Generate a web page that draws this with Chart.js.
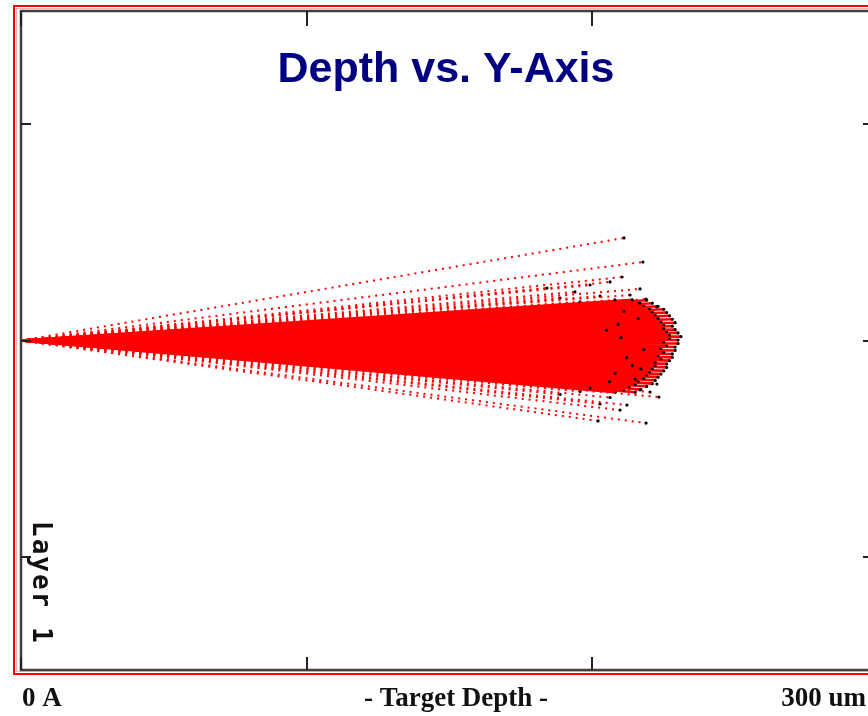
<!DOCTYPE html>
<html>
<head>
<meta charset="utf-8">
<script src="https://cdn.jsdelivr.net/npm/chart.js"></script>
<style>
  html, body { margin: 0; padding: 0; background: #fff; overflow: hidden; }
  #wrap { position: relative; width: 900px; height: 716px; }
</style>
</head>
<body>
<div id="wrap"><canvas id="depthchart"></canvas></div>
<script>
// ion entry point (depth um, lateral um)
const entryPoint = [0, 0];

// dense core of trajectories: stopping depth (um) and lateral position (um)
const coreDepth = [214, 219, 216, 221, 218, 223, 220, 225, 221, 226, 222, 227, 223, 228, 224, 229, 225, 228, 225, 229,
    226, 230, 227, 231, 227, 230, 225, 230, 226, 229, 224, 229, 225, 228, 223, 228, 224, 227, 222, 226,
    222, 226, 221, 225, 220, 224, 219, 223, 218, 222, 216, 221, 215, 219, 213, 217, 211, 215, 208];
const coreY = [18.8, 18.6, 17.5, 17.2, 16.1, 15.8, 14.7, 14.4, 13.3, 12.9, 11.8, 11.4, 10.3, 9.8, 8.7, 8.2, 7.2, 6.6, 5.6, 5.0,
    4.1, 3.5, 2.5, 1.8, 0.9, 0.2, -0.7, -1.4, -2.3, -3.0, -3.8, -4.6, -5.4, -6.2, -6.9, -7.8, -8.5, -9.3, -10.0, -10.8,
    -11.5, -12.4, -13.0, -14.0, -14.5, -15.5, -16.0, -16.9, -17.4, -18.4, -18.8, -19.9, -20.2, -21.2, -21.5, -22.6, -22.8, -23.9, -23.9];

// ions that stop inside the cloud before its edge
const innerDepth = [205, 212, 208, 216, 210, 214, 206, 218, 211, 215, 209, 217];
const innerY = [4.8, -7.9, -15.2, 10.1, 1.3, -11.6, -19.0, -4.2, 13.5, -17.8, 7.4, -13.1];

// scattered (dotted) trajectories outside the core
const strayDepth = [211.1, 217.7, 210.4, 216.7, 184.1, 206.2, 199.2, 193.9, 213.2, 202.7, 188.7, 207.9, 218.8, 195.7, 216.7, 222.6,
    202.0, 218.8, 212.1, 223.3, 222.6, 206.2, 195.7, 216.7, 188.7, 209.7, 202.7, 220.2, 199.2];
const strayY = [47.3, 36.2, 29.3, 23.8, 24.2, 27.0, 25.6, 22.4, 21.0, 20.5, 19.6, 18.7, 19.1, 17.8, 17.3, 15.5,
    -37.1, -38.1, -29.8, -26.1, -20.1, -26.3, -23.5, -22.8, -24.9, -32.1, -29.3, -23.8, -21.9];

const xTicks = [0, 100, 200, 300];
const yTicks = [-100, 0, 100];
const xLabels = ['0 A', '- Target Depth -', '300 um'];
const chartTitle = 'Depth vs. Y-Axis';
const layerLabel = 'Layer 1';

function trackDataset(depth, y, dotted) {
    return {
        data: [{x: entryPoint[0], y: entryPoint[1]}, {x: depth, y: y}],
        showLine: true,
        borderColor: '#ff0000',
        borderWidth: dotted ? 2 : 2.6,
        borderDash: dotted ? [2, 5] : [],
        pointRadius: [0, 1.6],
        pointBackgroundColor: '#000000',
        pointBorderWidth: 0,
        pointHoverRadius: 0
    };
}

const srimFrame = {
    id: 'srimFrame',
    afterDraw(chart) {
        const c = chart.ctx, a = chart.chartArea;
        const xs = chart.scales.x, ys = chart.scales.y;
        c.save();

        // red window border
        c.strokeStyle = '#ff0000';
        c.lineWidth = 2;
        c.strokeRect(a.left - 7, a.top - 5, a.right - a.left + 14, a.bottom - a.top + 9);
        c.strokeStyle = '#ffb0b0';
        c.lineWidth = 1;
        c.strokeRect(a.left - 4.5, a.top - 2.5, a.right - a.left + 9, a.bottom - a.top + 4);

        // plot frame
        c.strokeStyle = '#9a9a9a';
        c.lineWidth = 3;
        c.strokeRect(a.left, a.top, a.right - a.left, a.bottom - a.top);
        c.strokeStyle = '#222';
        c.lineWidth = 1.5;
        c.strokeRect(a.left, a.top, a.right - a.left, a.bottom - a.top);

        // tick marks drawn inward
        c.strokeStyle = '#222';
        c.lineWidth = 2;
        c.beginPath();
        xTicks.forEach(v => {
            const px = Math.round(xs.getPixelForValue(v));
            c.moveTo(px, a.top); c.lineTo(px, a.top + 15);
            c.moveTo(px, a.bottom); c.lineTo(px, a.bottom - 13);
        });
        yTicks.forEach(v => {
            const py = Math.round(ys.getPixelForValue(v));
            c.moveTo(a.left, py); c.lineTo(a.left + 10, py);
            c.moveTo(a.right, py); c.lineTo(a.right - 15, py);
        });
        c.stroke();

        // title
        c.fillStyle = '#000080';
        c.font = 'bold 43px "Liberation Sans", Arial, sans-serif';
        c.textAlign = 'center';
        c.textBaseline = 'alphabetic';
        c.fillText(chartTitle, 446, 82);

        // bottom labels
        c.fillStyle = '#111';
        c.font = 'bold 27px "Liberation Serif", "Times New Roman", serif';
        c.textAlign = 'left';
        c.fillText(xLabels[0], 22, 706);
        c.textAlign = 'center';
        c.fillText(xLabels[1], 456, 706);
        c.textAlign = 'right';
        c.fillText(xLabels[2], 866, 706);

        // layer label, vertical, reading downward
        c.translate(33, 521);
        c.rotate(Math.PI / 2);
        c.font = 'bold 26px "DejaVu Sans Mono", monospace';
        c.letterSpacing = '2px';
        c.textAlign = 'left';
        c.fillText(layerLabel, 0, 0);

        c.restore();
    }
};

document.addEventListener("DOMContentLoaded", function() {
    const ctx = document.getElementById('depthchart');

    // Chart.js paints the first dataset last, so the inner stops go first to stay visible
    const datasets = [];
    innerDepth.forEach((d, i) => datasets.push(trackDataset(d, innerY[i], false)));
    strayDepth.forEach((d, i) => datasets.push(trackDataset(d, strayY[i], true)));
    coreDepth.forEach((d, i) => datasets.push(trackDataset(d, coreY[i], false)));

    new Chart(ctx, {
        type: 'scatter',
        data: { datasets: datasets },
        options: {
            responsive: true,
            maintainAspectRatio: false,
            animation: false,
            events: [],
            layout: { padding: { left: 21, top: 11, right: 22, bottom: 46 } },
            scales: {
                x: { type: 'linear', min: 0, max: 300, display: false },
                y: { type: 'linear', min: -152, max: 152, display: false }
            },
            plugins: {
                legend: { display: false },
                tooltip: { enabled: false }
            }
        },
        plugins: [srimFrame]
    });
});
</script>
</body>
</html>
